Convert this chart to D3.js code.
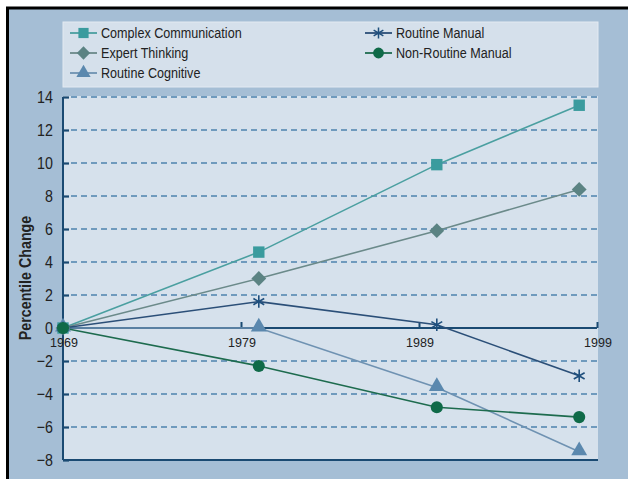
<!DOCTYPE html>
<html>
<head>
<meta charset="utf-8">
<script src="https://cdn.jsdelivr.net/npm/d3@7"></script>
<style>
html,body{margin:0;padding:0;background:#fff;}
svg{display:block;}
</style>
</head>
<body>
<svg id="chart" width="628" height="479"></svg>
<script>
// ---- data ----
const years = [1969, 1980, 1990, 1998];
const seriesNames = ["Complex Communication", "Expert Thinking", "Routine Cognitive", "Routine Manual", "Non-Routine Manual"];
const complexCommunication = [0, 4.6, 9.9, 13.5];
const expertThinking = [0, 3.0, 5.9, 8.4];
const routineCognitive = [0, 0, -3.6, -7.5];
const routineManual = [0, 1.6, 0.2, -2.9];
const nonRoutineManual = [0, -2.3, -4.8, -5.4];
const yTicks = [-8, -6, -4, -2, 0, 2, 4, 6, 8, 10, 12, 14];
const xTicks = [1969, 1979, 1989, 1999];

const seriesValues = [complexCommunication, expertThinking, routineCognitive, routineManual, nonRoutineManual];
const lineColors = ["#4a9fa0", "#6b8a8a", "#6f92b2", "#2b4f78", "#1d6b4e"];
const markColors = ["#3a9b9e", "#5b8383", "#5b88ae", "#1f4f7d", "#0f6a48"];
const symbols = [d3.symbolSquare, d3.symbolSquare, d3.symbolTriangle, d3.symbolAsterisk, d3.symbolCircle];
const symRot = [0, 45, 0, 0, 0];
const symSizes = [130, 110, 110, 110, 115];

const svg = d3.select("#chart");
const W = 628, H = 479;
const sans = "'Liberation Sans',Arial,Helvetica,sans-serif";
const SX = 0.84; // condensed look

// frame
svg.append("rect").attr("x", 0).attr("y", 0).attr("width", W).attr("height", H).attr("fill", "#ffffff");
svg.append("rect").attr("x", 7.5).attr("y", 8).attr("width", W).attr("height", H).attr("fill", "#a5bed5");
svg.append("line").attr("x1", 6).attr("x2", W).attr("y1", 8).attr("y2", 8).attr("stroke", "#000").attr("stroke-width", 3);
svg.append("line").attr("x1", 7.5).attr("x2", 7.5).attr("y1", 7).attr("y2", H).attr("stroke", "#000").attr("stroke-width", 3);

const x = d3.scaleLinear().domain([1969, 1999]).range([63, 597]);
const y = d3.scaleLinear().domain([-8, 14]).range([460, 97]);

// legend box
svg.append("rect").attr("x", 63).attr("y", 22).attr("width", 535).attr("height", 65)
  .attr("fill", "#d5e0eb").attr("stroke", "#e3eaf2").attr("stroke-width", 1);

// plot panel
svg.append("rect").attr("x", x(1969)).attr("y", y(14) - 1).attr("width", x(1999) - x(1969) + 1).attr("height", y(-8) - y(14) + 1)
  .attr("fill", "#d6e1ec");

// gridlines
const grid = svg.append("g");
grid.selectAll("line").data(yTicks.filter(d => d !== 0 && d !== -8)).join("line")
  .attr("x1", x(1969) + 8).attr("x2", x(1999))
  .attr("y1", d => y(d)).attr("y2", d => y(d))
  .attr("stroke", "#4d83ad").attr("stroke-width", 1.3).attr("stroke-dasharray", "6,4");

// y axis
const yAxis = svg.append("g").attr("transform", `translate(${x(1969)},0)`)
  .call(d3.axisRight(y).tickValues(yTicks).tickSize(6).tickFormat(""));
yAxis.select(".domain").attr("stroke", "#1a4a72").attr("stroke-width", 2).attr("d", `M0,${y(14)}V${y(-8)}`);
yAxis.selectAll(".tick line").attr("stroke", "#1a4a72").attr("stroke-width", 2.2);
// y tick labels
svg.append("g").selectAll("text").data(yTicks).join("text")
  .attr("transform", d => `translate(53,${y(d) + 6}) scale(${SX},1)`)
  .attr("text-anchor", "end")
  .attr("font-family", sans).attr("font-size", 17).attr("fill", "#222")
  .text(d => d < 0 ? "\u2212" + Math.abs(d) : d);

// bottom line
svg.append("line").attr("x1", x(1969)).attr("x2", x(1999) + 1).attr("y1", y(-8)).attr("y2", y(-8))
  .attr("stroke", "#1a4a72").attr("stroke-width", 2);

// x axis at zero
const xAxis = svg.append("g").attr("transform", `translate(0,${y(0)})`)
  .call(d3.axisTop(x).tickValues(xTicks).tickSize(6).tickFormat(""));
xAxis.select(".domain").attr("stroke", "#1a4a72").attr("stroke-width", 2).attr("d", `M${x(1969)},0H${x(1999)}`);
xAxis.selectAll(".tick line").attr("stroke", "#1a4a72").attr("stroke-width", 2);
svg.append("g").selectAll("text").data(xTicks).join("text")
  .attr("x", d => x(d) + 1).attr("y", y(0) + 19)
  .attr("text-anchor", "middle")
  .attr("font-family", sans).attr("font-size", 12.5).attr("fill", "#222")
  .text(d => d);

// y title
svg.append("text")
  .attr("transform", `translate(31,278) rotate(-90) scale(${SX},1)`)
  .attr("text-anchor", "middle")
  .attr("font-family", sans).attr("font-weight", "bold").attr("font-size", 17).attr("fill", "#222")
  .text("Percentile Change");

// lines & markers
const line = d3.line().x((d, i) => x(years[i])).y(d => y(d));
seriesValues.forEach((vals, k) => {
  svg.append("path").attr("d", line(vals)).attr("fill", "none")
    .attr("stroke", lineColors[k]).attr("stroke-width", 1.6);
});
seriesValues.forEach((vals, k) => {
  const sym = d3.symbol().type(symbols[k]).size(symSizes[k]);
  svg.append("g").selectAll("path").data(vals).join("path")
    .attr("transform", (d, i) => `translate(${x(years[i])},${y(d) + (k === 2 ? -1 : 0)}) rotate(${symRot[k]})`)
    .attr("d", sym)
    .attr("fill", k === 3 ? "none" : markColors[k])
    .attr("stroke", k === 3 ? markColors[k] : "none")
    .attr("stroke-width", k === 3 ? 1.6 : 0);
});

// legend
const legendPos = [[70, 33], [70, 53], [70, 73], [365, 33], [365, 53]];
seriesNames.forEach((name, k) => {
  const [lx, ly] = legendPos[k];
  const g = svg.append("g");
  g.append("line").attr("x1", lx).attr("x2", lx + 27).attr("y1", ly).attr("y2", ly)
    .attr("stroke", lineColors[k]).attr("stroke-width", 1.8);
  g.append("path").attr("transform", `translate(${lx + 13.5},${ly}) rotate(${symRot[k]})`)
    .attr("d", d3.symbol().type(symbols[k]).size(symSizes[k] * 0.8))
    .attr("fill", k === 3 ? "none" : markColors[k])
    .attr("stroke", k === 3 ? markColors[k] : "none")
    .attr("stroke-width", k === 3 ? 1.5 : 0);
  g.append("text").attr("transform", `translate(${lx + 31},${ly + 5}) scale(${SX},1)`)
    .attr("font-family", sans).attr("font-size", 15).attr("fill", "#222")
    .text(name);
});
</script>
</body>
</html>
